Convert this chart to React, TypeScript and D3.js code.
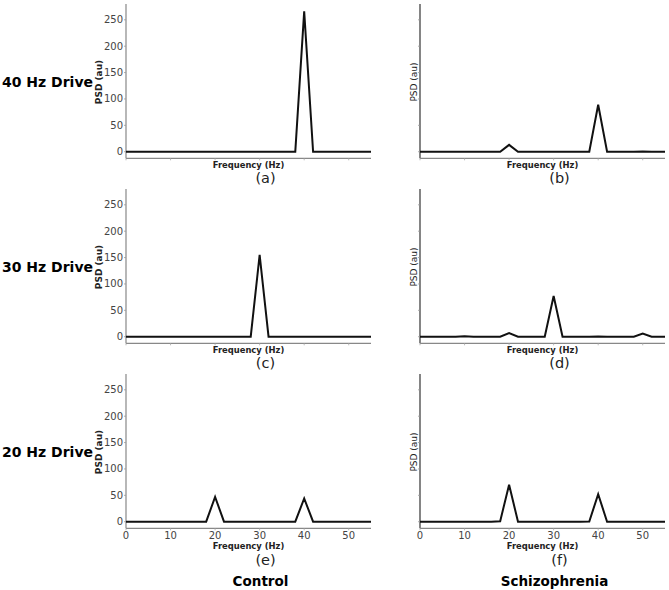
import React from "react";
import * as d3 from "d3";

// frequency bins (Hz)
const freqs = [0, 2, 4, 6, 8, 10, 12, 14, 16, 18, 20, 22, 24, 26, 28, 30, 32, 34, 36, 38, 40, 42, 44, 46, 48, 50, 52, 54, 56];

// PSD values per panel
const psdA = [0, 0, 0, 0, 0, 0, 0, 0, 0, 0, 0, 0, 0, 0, 0, 0, 0, 0, 0, 0, 266, 0, 0, 0, 0, 0, 0, 0, 0];
const psdB = [0, 0, 0, 0, 0, 0, 0, 0, 0, 0, 13, 0, 0, 0, 0, 0, 0, 0, 0, 0, 89, 0, 0, 0, 0, 0.5, 0, 0, 0];
const psdC = [0, 0, 0, 0, 0, 0, 0, 0, 0, 0, 0, 0, 0, 0, 0, 155, 0, 0, 0, 0, 0, 0, 0, 0, 0, 0, 0, 0, 0];
const psdD = [0, 0, 0, 0, 0, 1, 0, 0, 0, 0, 7, 0, 0, 0, 0, 77, 0, 0, 0, 0, 0.5, 0, 0, 0, 0, 6, 0, 0, 0];
const psdE = [0, 0, 0, 0, 0, 0, 0, 0, 0, 0, 47, 0, 0, 0, 0, 0, 0, 0, 0, 0, 44, 0, 0, 0, 0, 0, 0, 0, 0];
const psdF = [0, 0, 0, 0, 0, 0, 0, 0, 0, 1, 70, 0, 0, 0, 0, 0, 0, 0, 0, 0.5, 52, 0, 0, 0, 0, 0, 0, 0, 0];

const yTicks = [0, 50, 100, 150, 200, 250];
const xTicks = [0, 10, 20, 30, 40, 50];
const rowLabels = ["40 Hz Drive", "30 Hz Drive", "20 Hz Drive"];
const colLabels = ["Control", "Schizophrenia"];
const panelLetters = ["(a)", "(b)", "(c)", "(d)", "(e)", "(f)"];
const panelData = [psdA, psdB, psdC, psdD, psdE, psdF];

const W = 669;
const H = 590;
const colX = [126, 420];
const rowTop = [4, 189, 374];
const plotW = 245;
const plotH = 154.3;
const FONT = "'DejaVu Sans', Verdana, sans-serif";

interface PanelProps {
  x0: number;
  y0: number;
  values: number[];
  letter: string;
  col: number;
  row: number;
  id: string;
}

const Panel: React.FC<PanelProps> = ({ x0, y0, values, letter, col, row, id }) => {
  const x = d3.scaleLinear().domain([0, 55]).range([x0, x0 + plotW]);
  const y = d3.scaleLinear().domain([-12.5, 280]).range([y0 + plotH, y0]);
  const line = d3
    .line<number>()
    .x((_, i) => x(freqs[i]))
    .y((d) => y(d));
  const bottom = y0 + plotH;
  const cx = x0 + plotW / 2;
  const last = row === 2;
  return (
    <g>
      <defs>
        <clipPath id={id}>
          <rect x={x0} y={y0 - 5} width={plotW} height={plotH + 5} />
        </clipPath>
      </defs>
      {/* y axis */}
      <line x1={x0} x2={x0} y1={y0} y2={bottom} stroke={col === 0 ? "#888" : "#333"} strokeWidth={1.2} />
      {yTicks.map((t) => (
        <g key={t}>
          <line x1={x0 - 2} x2={x0} y1={y(t)} y2={y(t)} stroke="#999" strokeWidth={0.8} />
          {col === 0 && (
            <text x={x0 - 3} y={y(t)} dy="0.35em" textAnchor="end" fontSize={10} fill="#444" fontFamily={FONT}>
              {t}
            </text>
          )}
        </g>
      ))}
      {/* x axis */}
      <line x1={x0} x2={x0 + plotW} y1={bottom} y2={bottom} stroke="#888" strokeWidth={1.2} />
      {xTicks.map((t) => (
        <g key={t}>
          <line x1={x(t)} x2={x(t)} y1={bottom} y2={bottom + 2} stroke="#aaa" strokeWidth={0.8} />
          {last && (
            <text x={x(t)} y={bottom + 11} textAnchor="middle" fontSize={10} fill="#444" fontFamily={FONT}>
              {t}
            </text>
          )}
        </g>
      ))}
      <path d={line(values) || ""} fill="none" stroke="#111" strokeWidth={2} strokeLinejoin="miter" clipPath={`url(#${id})`} />
      {/* axis titles */}
      <text
        transform={`translate(${col === 0 ? x0 - 24 : x0 - 3.5},${y0 + 78}) rotate(-90)`}
        textAnchor="middle"
        fontSize={9}
        fontWeight={col === 0 ? "bold" : "normal"}
        fill="#222"
        fontFamily={FONT}
      >
        PSD (au)
      </text>
      <text x={cx} y={bottom + (last ? 20.5 : 9.5)} textAnchor="middle" fontSize={8.4} fontWeight="bold" fill="#222" fontFamily={FONT}>
        Frequency (Hz)
      </text>
      <text x={cx + 17} y={bottom + (last ? 37 : 25)} textAnchor="middle" fontSize={14.5} fill="#222" fontFamily={FONT}>
        {letter}
      </text>
    </g>
  );
};

export default function App() {
  return (
    <svg width={W} height={H} style={{ position: "absolute", left: 0, top: 0, background: "#fff" }}>
      {rowTop.map((top, r) =>
        colX.map((x0, c) => {
          const i = r * 2 + c;
          return (
            <Panel key={i} id={`clip${i}`} x0={x0} y0={top} values={panelData[i]} letter={panelLetters[i]} col={c} row={r} />
          );
        })
      )}
      {rowLabels.map((lab, r) => (
        <text key={lab} x={2} y={rowTop[r] + 82.7} fontSize={14} fontWeight="bold" fill="#000" fontFamily={FONT}>
          {lab}
        </text>
      ))}
      {colLabels.map((lab, c) => (
        <text key={lab} x={colX[c] + plotW / 2 + 12} y={586} textAnchor="middle" fontSize={13.5} fontWeight="bold" fill="#000" fontFamily={FONT}>
          {lab}
        </text>
      ))}
    </svg>
  );
}
